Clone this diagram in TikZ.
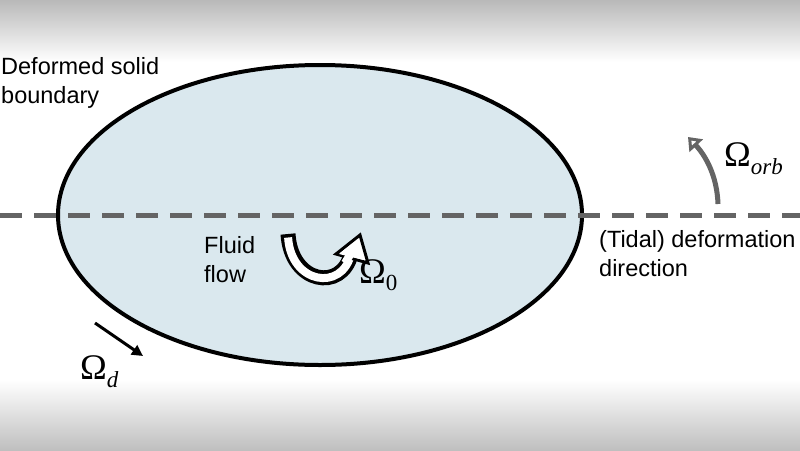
\documentclass[tikz,border=0pt]{standalone}
\usepackage{fontspec}
\setmainfont{Liberation Sans}
\newfontfamily\serifom{Liberation Serif}
\usetikzlibrary{arrows.meta,shapes.geometric}
\begin{document}
\begin{tikzpicture}[x=1pt,y=-1pt,
  lbl/.style={anchor=north west,align=left,font=\fontsize{23.5}{29}\selectfont,inner sep=0pt},
  om/.style={font=\serifom\fontsize{36}{36}\selectfont,inner sep=0pt}]
\useasboundingbox (0,0) rectangle (800,450);
\fill[white] (0,0) rectangle (800,450);
\shade[top color=gray!55,bottom color=white] (0,0) rectangle (800,62);
\shade[top color=white,bottom color=gray!50] (0,380) rectangle (800,450);
\node[ellipse,draw=black,line width=4pt,fill={rgb,255:red,218;green,232;blue,238},minimum width=524pt,minimum height=300pt] (e) at (320,215) {};
\draw[line width=5pt,color={rgb,255:red,100;green,100;blue,100},dash pattern=on 22pt off 12pt] (0,215) coordinate (l) -- (800,215) coordinate (r);
\node[lbl] (t1) at (1,57) {Deformed solid\\boundary};
\node[lbl] (t2) at (204,236) {Fluid\\flow};
\node[lbl] (t3) at (599,230) {(Tidal) deformation\\direction};
% hollow curved arrow
\draw[line width=15pt] (288,234) .. controls (291,284) and (342,292) .. (351,254);
\draw[line width=8pt,white] (288.1,237.5) .. controls (291,284) and (342,292) .. (351,254);
\draw[line width=3pt,fill=white,line join=miter] (336,254) -- (360,235) -- (368,263) -- cycle;
\fill[white] (339,254) -- (358,239) -- (364,260) -- cycle;
\draw[line width=8pt,white] (345,263) -- (353,250);
\node[om,anchor=north west] (o0) at (359,259) {Ω\raisebox{-7pt}{\fontsize{23}{23}\selectfont 0}};
% orbital arrow
\coordinate (a1) at (718,204);
\coordinate (a2) at (688,137);
\draw[line width=5pt,color={rgb,255:red,100;green,100;blue,100},-{Triangle[width=18pt,length=12pt,open,line width=4pt]}] (a1) .. controls (717,175) and (705,155) .. (a2);
\node[om,anchor=north west] (oo) at (724,142) {Ω\raisebox{-8pt}{\fontsize{23}{23}\selectfont\itshape orb}};
% Omega d
\coordinate (d1) at (95,323);
\coordinate (d2) at (143,356);
\draw[line width=3pt,-{Triangle[width=11pt,length=11pt]}] (d1) -- (d2);
\node[om,anchor=north west] (od) at (80,355) {Ω\raisebox{-8pt}{\fontsize{23}{23}\selectfont\itshape d}};
\end{tikzpicture}
\end{document}
